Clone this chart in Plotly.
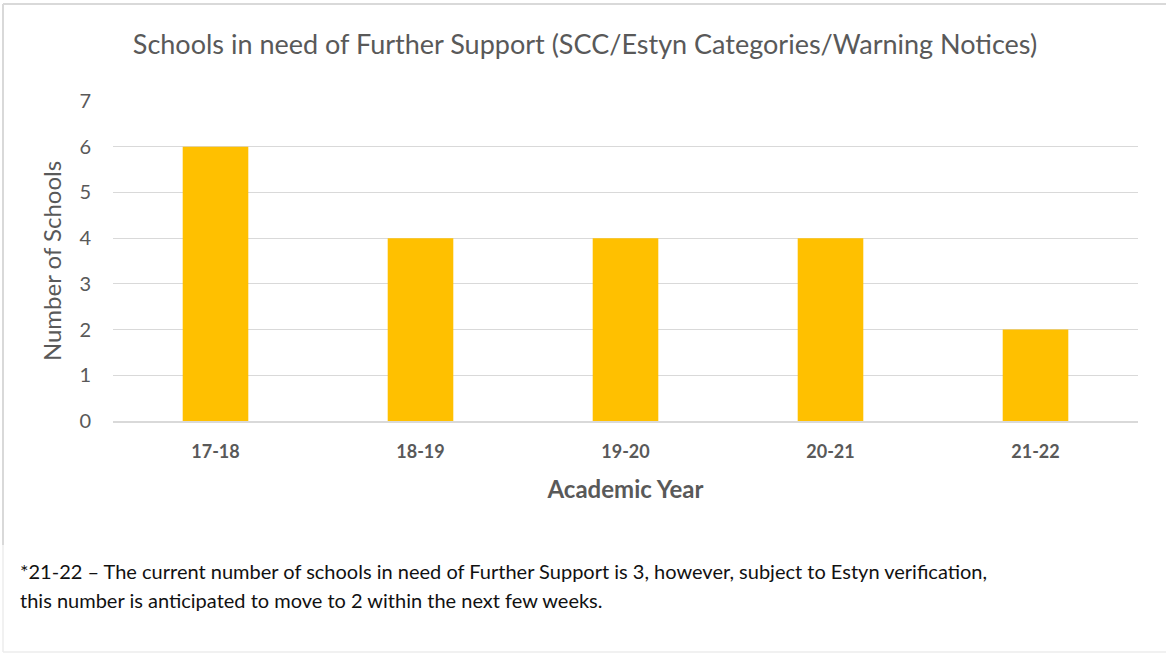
import plotly.graph_objects as go

categories = ["17-18", "18-19", "19-20", "20-21", "21-22"]
schools = [6, 4, 4, 4, 2]
y_ticks = [0, 1, 2, 3, 4, 5, 6, 7]

title_text = "Schools in need of Further Support (SCC/Estyn Categories/Warning Notices)"
x_title = "Academic Year"
y_title = "Number of Schools"
note_lines = [
    "*21-22 – The current number of schools in need of Further Support is 3, however, subject to Estyn verification,",
    "this number is anticipated to move to 2 within the next few weeks.",
]

W, H = 1166, 653
L, R, T, B = 113, 28, 101, 232  # plot area: x 113..1138, y 101..421
pw, ph = W - L - R, H - T - B

def px(x):
    return (x - L) / pw

def py(y):
    return (H - B - y) / ph

FONT = "Lato"
GRAY = "#595959"

fig = go.Figure(
    go.Bar(
        x=categories,
        y=schools,
        marker=dict(color="#FFC000", line=dict(width=0)),
        hoverinfo="x+y",
    )
)

fig.update_layout(
    width=W,
    height=H,
    margin=dict(l=L, r=R, t=T, b=B),
    paper_bgcolor="white",
    plot_bgcolor="white",
    bargap=0.68,
    showlegend=False,
    font=dict(family=FONT, color=GRAY),
    title=dict(
        text=title_text,
        x=px(585), xref="paper", xanchor="center",
        y=1 - 45 / H, yref="container", yanchor="middle",
        font=dict(size=27, color=GRAY, family=FONT),
    ),
    xaxis=dict(
        showgrid=False,
        showline=True,
        linecolor="#D9D9D9",
        linewidth=1.5,
        ticks="",
        ticklabelstandoff=14,
        tickfont=dict(size=18, color=GRAY, family=FONT, weight="bold"),
        title=dict(text=x_title, font=dict(size=24, color=GRAY, family=FONT, weight="bold"), standoff=20),
        fixedrange=True,
    ),
    yaxis=dict(
        range=[0, 7],
        tickvals=y_ticks,
        showgrid=True,
        gridcolor="#D9D9D9",
        gridwidth=1.2,
        zeroline=False,
        ticks="",
        ticklabelstandoff=21,
        tickfont=dict(size=20, color=GRAY, family=FONT),
        title=dict(text=y_title, font=dict(size=24, color=GRAY, family=FONT), standoff=10),
        fixedrange=True,
    ),
)

# chart frame lines
fig.add_shape(type="line", xref="paper", yref="paper",
              x0=px(3), x1=px(3), y0=py(4), y1=py(545),
              line=dict(color="#D9D9D9", width=2))
fig.add_shape(type="line", xref="paper", yref="paper",
              x0=px(3), x1=px(3), y0=py(545), y1=py(652),
              line=dict(color="#EDEDED", width=1.5))
fig.add_shape(type="line", xref="paper", yref="paper",
              x0=px(3), x1=px(1166), y0=py(4), y1=py(4),
              line=dict(color="#D9D9D9", width=2))
fig.add_shape(type="line", xref="paper", yref="paper",
              x0=px(3), x1=px(1166), y0=py(652), y1=py(652),
              line=dict(color="#EDEDED", width=1.5))

for i, line in enumerate(note_lines):
    fig.add_annotation(
        text=line, xref="paper", yref="paper",
        x=px(18), y=py(571 + 29 * i), xanchor="left", yanchor="middle",
        showarrow=False, font=dict(size=20, color="#111111", family=FONT),
    )

fig.write_html(
    "out.html",
    config={"displayModeBar": False},
    post_script="document.body.style.margin='0';document.body.style.padding='0';",
)
